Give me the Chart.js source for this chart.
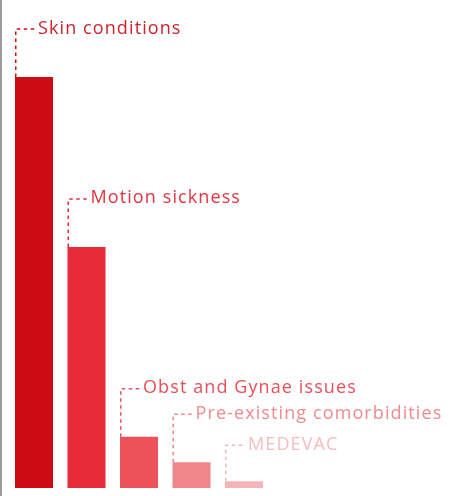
<!DOCTYPE html>
<html>
<head>
<meta charset="utf-8">
<script src="https://cdn.jsdelivr.net/npm/chart.js@4"></script>
<style>
  html, body { margin: 0; padding: 0; background: #fff; }
  #wrap { width: 452px; height: 496px; border-left: 2px solid #9a9a9a; }
</style>
</head>
<body>
<div id="wrap"><canvas id="myChart" width="452" height="496"></canvas></div>
<script>
// categorias e valores (% aproximado)
const categorias = ['Skin conditions', 'Motion sickness', 'Obst and Gynae issues', 'Pre-existing comorbidities', 'MEDEVAC'];
const valores = [84.2, 49.4, 10.5, 5.3, 1.4];
const coresBarras = ['#cc0c12', '#e72b38', '#ec525a', '#f0858a', '#f5b4b7'];
const coresTexto = ['#d0222a', '#e5333f', '#ea4f58', '#f08a8f', '#f6bcbf'];

// desenha os rótulos com linha pontilhada ligando na barra
const rotulos = {
    id: 'rotulos',
    afterDatasetsDraw(chart) {
        const ctx = chart.ctx;
        const barras = chart.getDatasetMeta(0).data;
        ctx.save();
        barras.forEach((bar, i) => {
            const esq = bar.x - bar.width / 2;
            const alt = i == barras.length - 1 ? 36 : 48;
            const yLinha = bar.y - alt;
            ctx.strokeStyle = coresBarras[i];
            ctx.lineWidth = 1.5;
            ctx.setLineDash([3.5, 3.5]);
            ctx.beginPath();
            ctx.moveTo(esq + 0.75, bar.y);
            ctx.lineTo(esq + 0.75, yLinha);
            ctx.lineTo(esq + 21, yLinha);
            ctx.stroke();
            ctx.setLineDash([]);
            ctx.fillStyle = coresTexto[i];
            ctx.font = '18px "Open Sans"';
            ctx.letterSpacing = '1.1px';
            ctx.textBaseline = 'alphabetic';
            ctx.fillText(categorias[i], esq + 23, yLinha + 4.5);
        });
        ctx.restore();
    }
};

new Chart(document.getElementById('myChart'), {
    type: 'bar',
    data: {
        labels: categorias,
        datasets: [{
            data: valores,
            backgroundColor: coresBarras,
            borderWidth: 0,
            barPercentage: 0.724,
            categoryPercentage: 1
        }]
    },
    options: {
        responsive: false,
        animation: false,
        layout: { padding: { left: 5.75, right: 183.75, top: 0, bottom: 8 } },
        plugins: { legend: { display: false }, tooltip: { enabled: false } },
        scales: {
            x: { display: false },
            y: { display: false, min: 0, max: 100 }
        }
    },
    plugins: [rotulos]
});
</script>
</body>
</html>
